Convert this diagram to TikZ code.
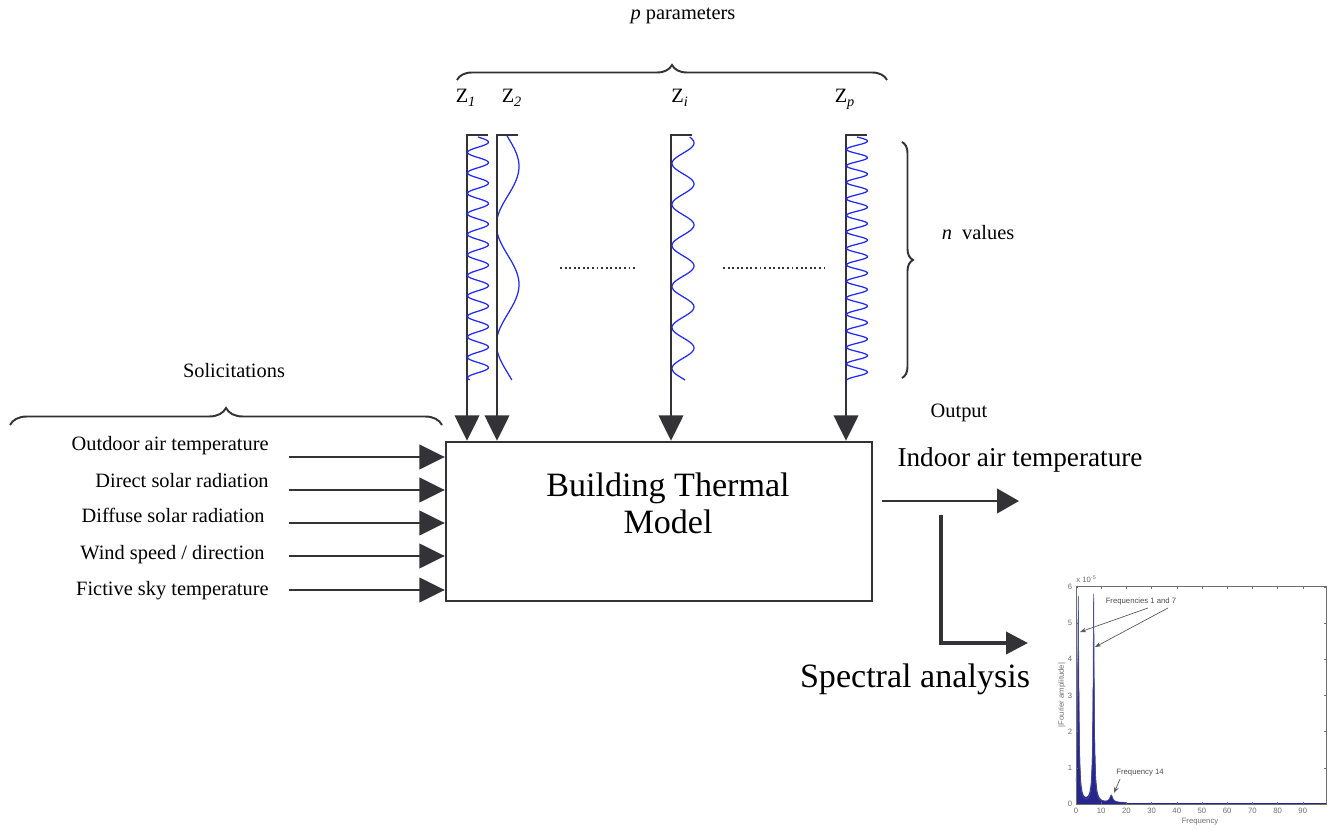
\documentclass[tikz,border=0pt]{standalone}
\usepackage{fontspec}
\setmainfont{Liberation Serif}
\newfontfamily\plotfont{Liberation Sans}
\usetikzlibrary{arrows.meta,decorations.pathreplacing}
\definecolor{linegray}{RGB}{51,51,55}
\definecolor{waveblue}{RGB}{30,40,250}
\definecolor{specblue}{RGB}{38,38,140}
\definecolor{axisgray}{RGB}{110,110,110}

\begin{document}
\begin{tikzpicture}[x=0.02cm,y=-0.02cm,
	lab/.style={font={\fontsize{11.6}{14}\selectfont},inner sep=0},
	big/.style={font={\fontsize{19.4}{21}\selectfont},inner sep=0,align=center},
	mid/.style={font={\fontsize{15.5}{18}\selectfont},inner sep=0},
	arr/.style={draw=linegray,line width=1.2pt,-{Triangle[length=14.5pt,width=14pt]}},
	wave/.style={draw=waveblue,line width=0.7pt},
	curly/.style={draw=linegray,line width=1.1pt,decorate,decoration={brace,amplitude=#1}},
	dotline/.style={draw=linegray,line width=1pt,dash pattern=on 1.1pt off 1.5pt},
	tiny/.style={font={\plotfont\fontsize{4.4}{5}\selectfont},text=axisgray,inner sep=0},
	annot/.style={draw=black!65,line width=0.4pt,-{Stealth[length=3.5pt,width=2.6pt]}},
	declare function={lor(\t,\c,\w)=1/(1+((\t-\c)/\w)*((\t-\c)/\w));}]
	\useasboundingbox (0,0) rectangle (1335,830);

	\node[draw=linegray,line width=1.4pt,minimum width=8.52cm,minimum height=3.18cm,inner sep=0] (model) at (659,521.5) {};
	\node[big] (modeltxt) at (668,503) {Building Thermal\\Model};

	\node[lab,anchor=base] (ptxt) at (683,20) {\textit{p} parameters};
	\draw[curly=0.3cm] (457,80) -- (887,80);
	\node[lab,anchor=base] (z1) at (466,103) {Z\textsubscript{\textit{1}}};
	\node[lab,anchor=base] (z2) at (512,103) {Z\textsubscript{\textit{2}}};
	\node[lab,anchor=base] (zi) at (680,103) {Z\textsubscript{\textit{i}}};
	\node[lab,anchor=base] (zp) at (845,103) {Z\textsubscript{\textit{p}}};

	\foreach \n/\xa in {1/467,2/497,i/671,p/846}{
		\coordinate (top\n) at (\xa,135);
		\draw[arr] (top\n) ++(21,0) -- (top\n) -- (top\n |- model.north);
	}

	\draw[wave] plot[domain=137:380,samples=240] ({478+10.5*sin((\x-137)/20.5*360)},\x);
	\begin{scope}
		\clip (497.8,130) rectangle (530,390);
		\draw[wave] plot[domain=136:380,samples=160] ({507.7+11.3*sin((\x-137)/118*360)},\x);
	\end{scope}
	\draw[wave] plot[domain=137:380,samples=200] ({683+11*sin((\x-132.75)/41*360)},\x);
	\draw[wave] plot[domain=137:380,samples=300] ({857+10.5*sin((\x-137)/16.5*360)},\x);

	\draw[dotline] (560,268) -- (637,268);
	\draw[dotline] (723,268) -- (828,268);

	\draw[curly=0.22cm] (902,142) -- (902,378);
	\node[lab,anchor=base] (nval) at (978,240) {\textit{n}\ \ values};

	\node[lab,anchor=base] (soltxt) at (234,378) {Solicitations};
	\draw[curly=0.34cm] (10,425) -- (442,425);
	\foreach \k/\txt/\xe/\yb/\ya in {1/{Outdoor air temperature}/269/451/457,
		2/{Direct solar radiation}/269/488/490,
		3/{Diffuse solar radiation}/265/523/523,
		4/{Wind speed / direction}/265/560/556,
		5/{Fictive sky temperature}/269/596/590}{
		\node[lab,anchor=base east] (in\k) at (\xe,\yb) {\txt};
		\coordinate (s\k) at (289,\ya);
		\draw[arr] (s\k) -- (s\k -| model.west);
	}

	\node[lab,anchor=base] (outtxt) at (959,418) {Output};
	\node[mid,anchor=base] (indoor) at (1020,467) {Indoor air temperature};
	\coordinate (o1) at (882,501);
	\coordinate (o2) at (1019,501);
	\draw[draw=linegray,line width=1.2pt,-{Triangle[length=12.5pt,width=14pt]}] (o1) -- (o2);
	\coordinate (sa1) at (941,515);
	\coordinate (sa2) at (1028,643);
	\draw[draw=linegray,line width=2.2pt,-{Triangle[length=12.5pt,width=12.5pt]}] (sa1) |- (sa2);
	\node[big,anchor=base] (spectxt) at (915,687) {Spectral analysis};

	\begin{scope}[shift={(1076,804)},x=0.0504cm,y=0.724cm]
		\fill[specblue] plot[domain=0:20,samples=401] (\x,{5.7*lor(\x,0.9,0.3)+5.75*lor(\x,7,0.28)+0.2*lor(\x,14,0.7)+0.04}) -- (20,0) -- (0,0) -- cycle;
		\foreach \w in {0.35,0.42}
			\fill[specblue] plot[domain=0:20,samples=401] (\x,{4.6*lor(\x,0.9,\w)+4.3*lor(\x,7,\w)+0.15*lor(\x,14,0.9)+0.03}) -- (20,0) -- (0,0) -- cycle;
		\draw[specblue!80,line width=0.3pt] plot[domain=0:20,samples=401] (\x,{5.7*lor(\x,0.9,0.3)+5.75*lor(\x,7,0.28)+0.2*lor(\x,14,0.7)+0.04});
		\fill[specblue] (20,0) rectangle (99.2,0.04);
		\draw[axisgray,line width=0.4pt] (0,0) rectangle (99.2,6);
		\foreach \v in {0,10,...,90}{
			\draw[axisgray,line width=0.3pt] (\v,0) -- ++(0,0.06) (\v,6) -- ++(0,-0.06);
			\node[tiny] (xt\v) at (\v,-0.2) {\v};
		}
		\foreach \v in {0,...,6}{
			\draw[axisgray,line width=0.3pt] (0,\v) -- ++(0.8,0) (99.2,\v) -- ++(-0.8,0);
			\node[tiny] (yt\v) at (-2.4,\v) {\v};
		}
	\end{scope}
	\node[tiny,anchor=west] (expo) at (1076,579) {x 10\textsuperscript{-5}};
	\node[tiny,rotate=90] (ylab) at (1062,695) {|Fourier amplitude|};
	\node[tiny] (xlab) at (1200,822) {Frequency};
	\node[tiny,text=black!70] (f17) at (1141,602) {Frequencies 1 and 7};
	\coordinate (c1) at (1148,608);
	\coordinate (c2) at (1168,608);
	\coordinate (p1) at (1080,632);
	\coordinate (p7) at (1095,647);
	\draw[annot] (c1) -- (p1);
	\draw[annot] (c2) -- (p7);
	\node[tiny,text=black!70] (f14) at (1140,773) {Frequency 14};
	\coordinate (c3) at (1120,779);
	\coordinate (p14) at (1114,793);
	\draw[annot] (c3) -- (p14);
\end{tikzpicture}
\end{document}
